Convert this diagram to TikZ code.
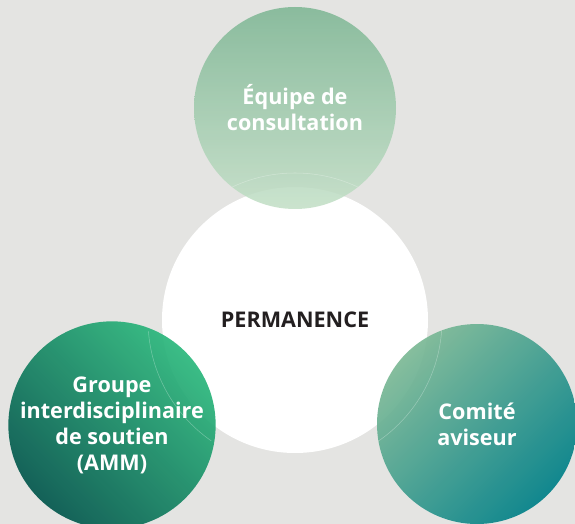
\documentclass[tikz,border=0pt]{standalone}
\usepackage{fontspec}
\setmainfont{Open Sans}
\definecolor{bggray}{HTML}{E4E4E2}
\definecolor{permtext}{HTML}{231F20}
\definecolor{equipetop}{HTML}{7BB592}
\definecolor{equipebot}{HTML}{C2DFC6}
\definecolor{groupedark}{HTML}{03574D}
\definecolor{groupemid}{HTML}{16966C}
\definecolor{groupebright}{HTML}{2BB87C}
\definecolor{comitelight}{HTML}{7CB995}
\definecolor{comitemid}{HTML}{72B492}
\definecolor{comiteteal}{HTML}{008088}
\begin{document}
\begin{tikzpicture}[x=0.75pt,y=-0.75pt,
  bubble/.style={circle, inner sep=0pt, align=center, text=white,
    fill opacity=0.92, text opacity=1,
    font=\bfseries\fontsize{16.2}{19.5}\selectfont}]
  \fill[bggray] (0,0) rectangle (575,524);
  \useasboundingbox (0,0) rectangle (575,524);
  \begin{scope}
    \clip (0,0) rectangle (575,524);
    % centre
    \node[circle, fill=white, inner sep=0pt, minimum size=199.5pt, text=permtext,
      font=\bfseries\fontsize{16.2}{19.5}\selectfont] (perm) at (295,320) {PERMANENCE};
    % outer circles
    \node[bubble, fill opacity=0.85, minimum size=151.5pt, top color=equipetop,
      bottom color=equipebot] (equipe) at (295,108) {Équipe de\\consultation};
    \node[bubble, minimum size=150.75pt, top color=groupebright, middle color=groupemid,
      bottom color=groupedark, shading angle=-45]
      (groupe) at (112,425) {Groupe\\interdisciplinaire\\de soutien\\(AMM)};
    \node[bubble, minimum size=150pt, top color=comitelight, middle color=comitemid,
      bottom color=comiteteal, shading angle=45] (comite) at (477,424) {Comité\\aviseur};
    \foreach \c/\r in {equipe/101, groupe/100.5, comite/100} {
      \begin{scope}
        \clip (\c.center) circle (\r);
        \draw[white, opacity=0.3, line width=0.4pt] (perm.center) circle (147);
      \end{scope}
    }
  \end{scope}
\end{tikzpicture}
\end{document}
